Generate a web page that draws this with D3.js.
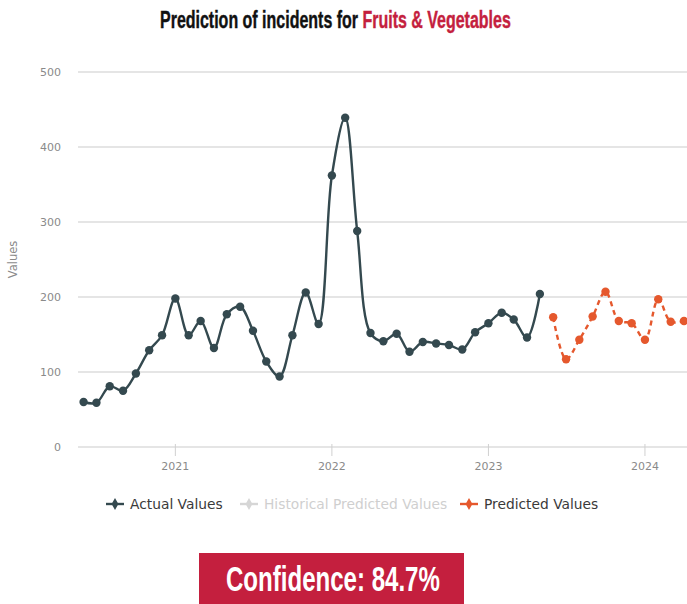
<!DOCTYPE html>
<html>
<head>
<meta charset="utf-8">
<script src="https://cdn.jsdelivr.net/npm/d3@7"></script>
<style>
  html, body { margin: 0; padding: 0; background: #fff; }
  svg { display: block; }
</style>
</head>
<body>
<svg id="chart" width="687" height="604"></svg>
<script>
// ---------- DATA ----------
const actualMonths = [
  "2020-06","2020-07","2020-08","2020-09","2020-10","2020-11","2020-12",
  "2021-01","2021-02","2021-03","2021-04","2021-05","2021-06","2021-07","2021-08","2021-09","2021-10","2021-11","2021-12",
  "2022-01","2022-02","2022-03","2022-04","2022-05","2022-06","2022-07","2022-08","2022-09","2022-10","2022-11","2022-12",
  "2023-01","2023-02","2023-03","2023-04","2023-05"
];
const actualValues = [
  60, 59, 81, 75, 98, 129, 149,
  198, 149, 168, 132, 177, 187, 155, 114, 94, 149, 206, 164,
  362, 439, 288, 152, 141, 151, 127, 140, 138, 136, 130, 153,
  165, 179, 170, 146, 204
];
const predictedMonths = [
  "2023-06","2023-07","2023-08","2023-09","2023-10","2023-11","2023-12",
  "2024-01","2024-02","2024-03","2024-04"
];
const predictedValues = [173, 117, 143, 174, 207, 168, 165, 143, 197, 167, 168];
const yTicks = [0, 100, 200, 300, 400, 500];
const xTickYears = ["2021", "2022", "2023", "2024"];
const legendLabels = ["Actual Values", "Historical Predicted Values", "Predicted Values"];
const titleMain = "Prediction of incidents for ";
const titleHighlight = "Fruits & Vegetables";
const confidenceText = "Confidence: 84.7%";

// ---------- SETUP ----------
const parse = d3.timeParse("%Y-%m");
const actual = actualMonths.map((m, i) => ({ date: parse(m), value: actualValues[i] }));
const predicted = predictedMonths.map((m, i) => ({ date: parse(m), value: predictedValues[i] }));

const svg = d3.select("#chart");
const W = 687, H = 604;
const plotLeft = 78, plotRight = 705;
const colActual = "#34494f";
const colPred = "#e5582d";
const colRed = "#c41f3e";

const x = d3.scaleTime()
  .domain([new Date(2020, 4, 19), new Date(2024, 4, 20)])
  .range([plotLeft, plotRight]);
const y = d3.scaleLinear().domain([0, 500]).range([447, 72]);

// gridlines
const grid = svg.append("g");
grid.selectAll("line").data(yTicks).join("line")
  .attr("x1", plotLeft).attr("x2", W)
  .attr("y1", d => y(d)).attr("y2", d => y(d))
  .attr("stroke", "#dcdcdc").attr("stroke-width", 1.6);

// y axis labels
svg.append("g").selectAll("text").data(yTicks).join("text")
  .attr("x", 61).attr("y", d => y(d)).attr("dy", "0.35em")
  .attr("text-anchor", "end")
  .attr("font-family", "DejaVu Sans, sans-serif").attr("font-size", 11)
  .attr("fill", "#8a8a8a")
  .text(d => d);

svg.append("text")
  .attr("transform", `translate(17,${y(250)}) rotate(-90)`)
  .attr("text-anchor", "middle")
  .attr("font-family", "DejaVu Sans, sans-serif").attr("font-size", 11.5)
  .attr("fill", "#8a8a8a")
  .text("Values");

// x axis ticks
const xTickDates = xTickYears.map(yy => new Date(+yy, 0, 1));
const xAxisG = svg.append("g");
xAxisG.selectAll("line").data(xTickDates).join("line")
  .attr("x1", d => x(d)).attr("x2", d => x(d))
  .attr("y1", y(0) - 3).attr("y2", y(0) + 9)
  .attr("stroke", "#d0d0d0").attr("stroke-width", 1);
xAxisG.selectAll("text").data(xTickDates).join("text")
  .attr("x", d => x(d)).attr("y", 470)
  .attr("text-anchor", "middle")
  .attr("font-family", "DejaVu Sans, sans-serif").attr("font-size", 11)
  .attr("fill", "#8a8a8a")
  .text((d, i) => xTickYears[i]);

// lines
const line = d3.line().x(d => x(d.date)).y(d => y(d.value)).curve(d3.curveCatmullRom.alpha(0.5));

const plot = svg.append("g");
plot.append("path").datum(actual)
  .attr("d", line).attr("fill", "none")
  .attr("stroke", colActual).attr("stroke-width", 2.4);
plot.selectAll("circle.a").data(actual).join("circle").attr("class", "a")
  .attr("cx", d => x(d.date)).attr("cy", d => y(d.value)).attr("r", 4.2)
  .attr("fill", colActual);

plot.append("path").datum(predicted)
  .attr("d", line).attr("fill", "none")
  .attr("stroke", colPred).attr("stroke-width", 2.4)
  .attr("stroke-dasharray", "5,4");
plot.selectAll("circle.p").data(predicted).join("circle").attr("class", "p")
  .attr("cx", d => x(d.date)).attr("cy", d => y(d.value)).attr("r", 4.2)
  .attr("fill", colPred);

// legend
const legendItems = [
  { label: legendLabels[0], color: colActual, text: "#3a3a3a", x: 106 },
  { label: legendLabels[1], color: "#d6d6d6", text: "#cfcfcf", x: 240 },
  { label: legendLabels[2], color: colPred, text: "#3a3a3a", x: 460 }
];
const lg = svg.append("g");
legendItems.forEach(it => {
  const g = lg.append("g").attr("transform", `translate(${it.x},504)`);
  g.append("line").attr("x1", 0).attr("x2", 18).attr("y1", 0).attr("y2", 0)
    .attr("stroke", it.color).attr("stroke-width", 2.4);
  g.append("path").attr("d", d3.symbol(d3.symbolDiamond, 40)())
    .attr("transform", "translate(9,0)").attr("fill", it.color);
  g.append("text").attr("x", 24).attr("dy", "0.35em")
    .attr("font-family", "DejaVu Sans, sans-serif").attr("font-size", 13.8)
    .attr("fill", it.text).text(it.label);
});

// title
const titleG = svg.append("g");
const title = titleG.append("text")
  .attr("x", 0).attr("y", 0)
  .attr("font-family", "'Liberation Sans Narrow', 'Liberation Sans', sans-serif")
  .attr("font-weight", "bold").attr("font-size", 23)
  .attr("stroke-width", 0.4);
title.append("tspan").attr("fill", "#111").attr("stroke", "#111").text(titleMain);
title.append("tspan").attr("fill", colRed).attr("stroke", colRed).text(titleHighlight);
const tw = title.node().getComputedTextLength();
const targetTW = 351;
titleG.attr("transform", `translate(160,28) scale(${targetTW / tw},1)`);

// confidence box
svg.append("rect").attr("x", 199).attr("y", 553).attr("width", 265).attr("height", 51)
  .attr("fill", colRed);
const confG = svg.append("g");
const conf = confG.append("text")
  .attr("font-family", "'Liberation Sans Narrow', 'Liberation Sans', sans-serif")
  .attr("font-weight", "bold").attr("font-size", 35)
  .attr("fill", "#fff").text(confidenceText);
const cw = conf.node().getComputedTextLength();
const targetCW = 214;
confG.attr("transform", `translate(226,591) scale(${targetCW / cw},1)`);
</script>
</body>
</html>
